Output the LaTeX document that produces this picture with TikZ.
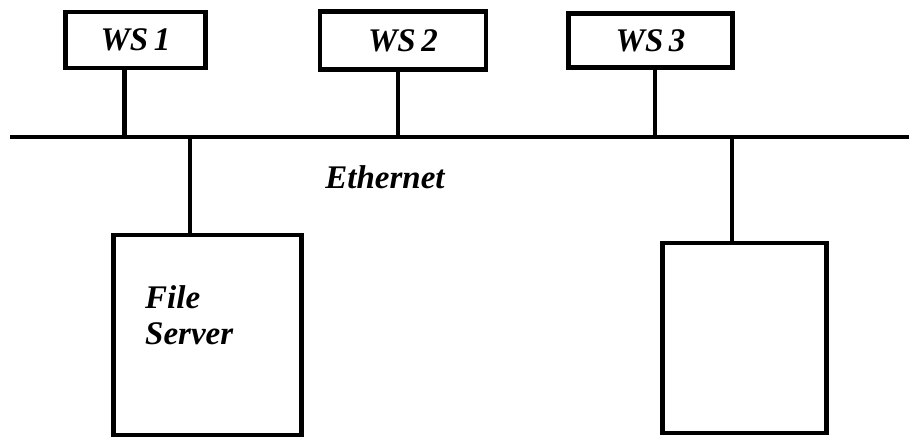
\documentclass[tikz,border=0pt]{standalone}
\usepackage{fontspec}
\setmainfont{Liberation Serif}
\usepackage{tikz}
\usetikzlibrary{positioning,calc}

\begin{document}
\begin{tikzpicture}[x=0.5pt,y=-0.5pt,line width=2.2pt,
   font=\fontsize{16.5}{18}\selectfont\bfseries\itshape,
   ws/.style={draw,rectangle,inner sep=0pt,minimum height=28pt},
   host/.style={draw,rectangle,inner sep=0pt}]
  \useasboundingbox (0,0) rectangle (909,440);
  % bus
  \coordinate (busL) at (10,137);
  \coordinate (busR) at (909,137);
  \draw (busL) -- (busR);
  \node at (385,177) (eth) {Ethernet};
  % workstations
  \node[ws,minimum width=70pt] at (135.5,40) (ws1) {WS\,1};
  \node[ws,minimum width=83pt,minimum height=29pt] at (403,40.5) (ws2) {WS\,2};
  \node[ws,minimum width=82pt,minimum height=27pt] at (650.5,40.5) (ws3) {WS\,3};
  \coordinate (t1) at ($(ws1.south)+(-11,0)$);
  \coordinate (t2) at ($(ws2.south)+(-5,0)$);
  \coordinate (t3) at ($(ws3.south)+(4.5,0)$);
  \draw (t1) -- (t1 |- busL);
  \draw (t2) -- (t2 |- busL);
  \draw (t3) -- (t3 |- busL);
  % servers
  \node[host,minimum width=94pt,minimum height=100pt] at (207.5,335) (fs) {};
  \node[anchor=west,align=left,inner sep=0pt] at (143,315) (fslabel) {File\\Server};
  \node[host,minimum width=82pt,minimum height=95pt] at (744.5,338) (srv) {};
  \coordinate (t4) at ($(fs.north)+(-17.5,0)$);
  \coordinate (t5) at ($(srv.north)+(-12.5,0)$);
  \draw (t4 |- busL) -- (t4);
  \draw (t5 |- busL) -- (t5);
\end{tikzpicture}
\end{document}
